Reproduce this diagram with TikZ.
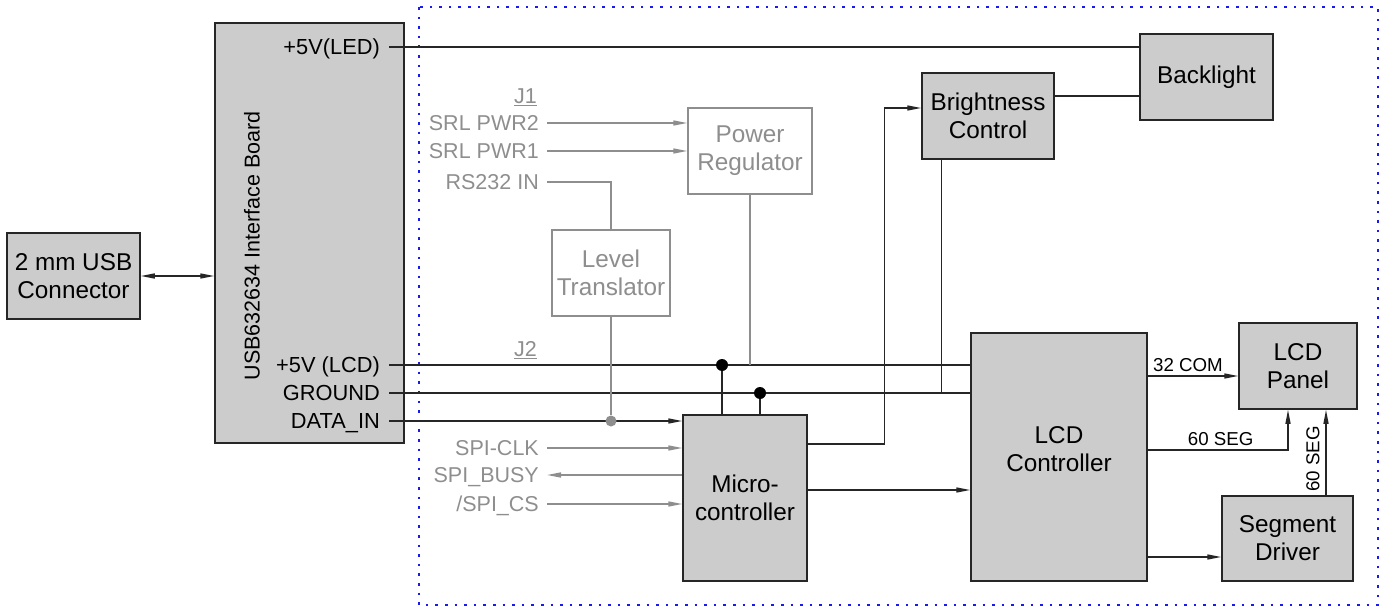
\documentclass[tikz,border=0pt]{standalone}
\usepackage{fontspec}
\setmainfont{Liberation Sans}
\usepackage{tikz}
\usetikzlibrary{arrows.meta, calc}
\definecolor{blockfill}{HTML}{CCCCCC}
\definecolor{ink}{HTML}{262626}
\definecolor{dim}{HTML}{8E8E8E}
\definecolor{frameblue}{HTML}{1A1AF0}

\begin{document}
\begin{tikzpicture}[
    x=1pt, y=-1pt,
    blk/.style={rectangle, draw=ink, line width=1.5pt, fill=blockfill, align=center, inner sep=0pt, text=black, font=\fontsize{24.3}{28}\selectfont},
    ghost/.style={blk, draw=dim, fill=white, text=dim},
    pinlbl/.style={anchor=east, inner sep=0pt, text height=15.5pt, text depth=0pt, font=\fontsize{21.8}{24}\selectfont},
    dimlbl/.style={pinlbl, text=dim, font=\fontsize{21.5}{24}\selectfont},
    tag/.style={inner sep=0pt, font=\fontsize{18.7}{22}\selectfont},
    wire/.style={draw=ink, line width=1.4pt},
    dwire/.style={draw=dim, line width=1.4pt},
    arr/.style={wire, -{Triangle[length=14pt, width=5pt]}},
    darr/.style={dwire, -{Triangle[length=14pt, width=5pt]}},
    dot/.style={circle, fill=black, inner sep=0pt, minimum size=12pt}
]
\useasboundingbox (0,0) rectangle (1384,610);
\draw[frameblue, line width=2.6pt, dash pattern=on 2.6pt off 7pt] (419,7) rectangle (1378,605);

\node[blk, minimum width=133pt, minimum height=86pt] (usb) at (73.5,276) {2 mm USB\\Connector};
\node[blk, minimum width=189pt, minimum height=420pt] (board) at (309.5,233) {};
\node[rotate=90, inner sep=0pt, font=\fontsize{21.5}{24}\selectfont] (boardname) at (252,246) {USB632634 Interface Board};
\node[blk, minimum width=133pt, minimum height=86pt] (backlight) at (1206.5,77) {Backlight};
\node[blk, minimum width=132pt, minimum height=86pt] (bright) at (988,116) {Brightness\\Control};
\node[ghost, minimum width=124pt, minimum height=86pt] (preg) at (750,151) {Power\\Regulator};
\node[ghost, minimum width=118pt, minimum height=86pt] (lvl) at (611,273) {Level\\Translator};
\node[blk, minimum width=124pt, minimum height=166pt] (mcu) at (745,498) {Micro-\\controller};
\node[blk, minimum width=176pt, minimum height=248pt] (lcdc) at (1059,457) {LCD\\Controller\\[-12pt]};
\node[blk, minimum width=118pt, minimum height=86pt] (panel) at (1298,366) {LCD\\Panel};
\node[blk, minimum width=131pt, minimum height=85pt] (segdrv) at (1287.5,538.5) {Segment\\Driver};

\node[pinlbl] (pLED) at (380,47) {+5V(LED)};
\node[pinlbl] (pLCD) at (380,365) {+5V (LCD)};
\node[pinlbl] (pGND) at (380,393) {GROUND};
\node[pinlbl] (pDATA) at (380,421) {DATA\_IN};

\node[dimlbl] (jone) at (537,96) {\underline{J1}};
\node[dimlbl] (jtwo) at (537,349) {\underline{J2}};
\node[dimlbl] (sPWR2) at (539,123) {SRL PWR2};
\node[dimlbl] (sPWR1) at (539,151) {SRL PWR1};
\node[dimlbl] (sRS) at (539,182) {RS232 IN};
\node[dimlbl] (sCLK) at (539,448) {SPI-CLK};
\node[dimlbl] (sBUSY) at (539,475) {SPI\_BUSY};
\node[dimlbl] (sCS) at (539,504) {/SPI\_CS};

\draw[wire, {Triangle[length=14pt, width=5pt]}-{Triangle[length=14pt, width=5pt]}] (usb.east) -- (usb.east -| board.west);

\draw[wire] ([xshift=9pt]pLED.east) -- (pLED -| backlight.west);
\draw[wire] ([xshift=9pt]pLCD.east) -- (pLCD -| lcdc.west);
\draw[wire] ([xshift=9pt]pGND.east) -- (pGND -| lcdc.west);
\draw[arr] ([xshift=9pt]pDATA.east) -- (pDATA -| mcu.west);

\node[dot] (dLCD) at (722,365) {};
\node[dot] (dGND) at (760,393) {};
\draw[wire] (dLCD) -- (dLCD |- mcu.north);
\draw[wire] (dGND) -- (dGND |- mcu.north);

\draw[darr] ([xshift=8pt]sPWR2.east) -- (sPWR2 -| preg.west);
\draw[darr] ([xshift=8pt]sPWR1.east) -- (sPWR1 -| preg.west);
\draw[dwire] ([xshift=8pt]sRS.east) -| (lvl.north);
\node[dot, fill=dim, minimum size=11pt] (dDATA) at (lvl.south |- pDATA) {};
\draw[dwire] (lvl.south) -- (dDATA);
\draw[dwire] (preg.south) -- (preg.south |- pLCD);
\draw[darr] ([xshift=8pt]sCLK.east) -- (sCLK -| mcu.west);
\draw[darr] (sBUSY -| mcu.west) -- ([xshift=8pt]sBUSY.east);
\draw[darr] ([xshift=8pt]sCS.east) -- (sCS -| mcu.west);

\coordinate (mcuB) at ([yshift=54pt]mcu.east);
\coordinate (brIn) at ([yshift=8pt]bright.west);
\draw[arr] (mcuB) -- ++(77,0) |- (brIn);
\coordinate (brOut) at ([yshift=20pt]bright.east);
\draw[wire] (brOut) -- (brOut -| backlight.west);
\coordinate (brGnd) at ([xshift=20pt]bright.south west);
\draw[wire] (brGnd) -- (brGnd |- pGND);

\coordinate (mcuC) at ([yshift=8pt]mcu.east);
\draw[arr] (mcuC) -- (mcuC -| lcdc.west);

\coordinate (cCOM) at ([yshift=-10pt]panel.west);
\draw[arr] (cCOM -| lcdc.east) -- node[tag, above=4pt, xshift=-5pt] (comLbl) {32 COM} (cCOM);
\coordinate (cSEG) at ([yshift=7pt]lcdc.east);
\coordinate (pSEG) at ([xshift=-10pt]panel.south);
\draw[arr] (cSEG) -| node[tag, above=4pt, pos=0.26] (segLbl) {60 SEG} (pSEG);
\coordinate (sUp) at ([xshift=38.5pt]segdrv.north);
\draw[arr] (sUp) -- (sUp |- panel.south);
\node[tag, rotate=90] (drvLbl) at (1313,459) {60 SEG};
\coordinate (sIn) at ([yshift=-18.5pt]segdrv.west);
\draw[arr] (sIn -| lcdc.east) -- (sIn);
\end{tikzpicture}
\end{document}
